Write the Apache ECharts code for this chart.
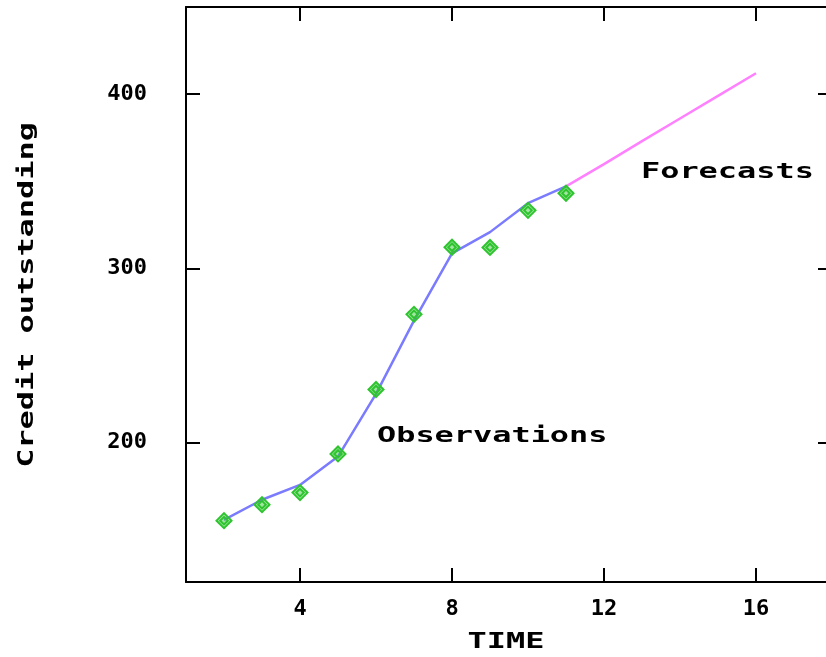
<!DOCTYPE html>
<html>
<head>
<meta charset="utf-8">
<script src="https://cdn.jsdelivr.net/npm/echarts@6/dist/echarts.min.js"></script>
<style>
html,body{margin:0;padding:0;background:#fff;overflow:hidden;width:826px;height:657px;}
#chart{width:840px;height:657px;}
</style>
</head>
<body>
<div id="chart"></div>
<script>
// ---- data ----
const obsTime = [2, 3, 4, 5, 6, 7, 8, 9, 10, 11];
const obsValues = [155.2, 164.4, 171.3, 193.5, 230.5, 273.6, 312.1, 312.0, 333.3, 343.1];
const fitTime = [2, 3, 4, 5, 6, 7, 8, 9, 10, 11];
const fitValues = [155.7, 167.2, 175.7, 192.0, 228.0, 270.0, 308.6, 320.8, 337.4, 347.1];
const fcTime = [11, 12, 13, 14, 15, 16];
const fcValues = [347.1, 359.8, 373.0, 386.0, 399.0, 412.0];
const xTicks = [4, 8, 12, 16];
const yTicks = [200, 300, 400];
const xTitle = 'TIME';
const yTitle = 'Credit outstanding';
const obsLabel = 'Observations';
const fcLabel = 'Forecasts';

const pairs = (xs, ys) => xs.map((x, i) => [x, ys[i]]);
const FONT = 'DejaVu Sans Mono';
const SX = 1.45;
const TFONT = 'bold 22px "' + FONT + '"';

const axisBase = {
  axisLine: { show: true, onZero: false, lineStyle: { color: '#000', width: 2 } },
  axisTick: { show: true, inside: true, length: 14, lineStyle: { color: '#000', width: 2 } },
  splitLine: { show: false }
};
const tickLabel = { fontFamily: FONT, fontSize: 22, fontWeight: 'bold', color: '#000' };

const chart = echarts.init(document.getElementById('chart'), null, { renderer: 'canvas', width: 840, height: 657 });
chart.setOption({
  backgroundColor: '#fff',
  animation: false,
  grid: { left: 186, top: 7, width: 646, height: 575, outerBoundsMode: 'none', containLabel: false },
  xAxis: [
    Object.assign({}, axisBase, {
      type: 'value', min: 1, max: 18, position: 'bottom',
      axisTick: Object.assign({}, axisBase.axisTick, { customValues: xTicks }),
      axisLabel: Object.assign({ customValues: xTicks, margin: 16 }, tickLabel)
    }),
    Object.assign({}, axisBase, {
      type: 'value', min: 1, max: 18, position: 'top',
      axisTick: Object.assign({}, axisBase.axisTick, { customValues: xTicks }),
      axisLabel: { show: false }
    })
  ],
  yAxis: [
    Object.assign({}, axisBase, {
      type: 'value', min: 120, max: 450, position: 'left',
      axisTick: Object.assign({}, axisBase.axisTick, { customValues: yTicks }),
      axisLabel: Object.assign({ customValues: yTicks, margin: 39 }, tickLabel)
    }),
    Object.assign({}, axisBase, {
      type: 'value', min: 120, max: 450, position: 'right',
      axisTick: Object.assign({}, axisBase.axisTick, { customValues: yTicks }),
      axisLabel: { show: false }
    })
  ],
  series: [
    {
      type: 'line', data: pairs(fitTime, fitValues), symbol: 'none',
      lineStyle: { color: '#7b7bff', width: 2.5 }, z: 2
    },
    {
      type: 'line', data: pairs(fcTime, fcValues), symbol: 'none',
      lineStyle: { color: '#ff80ff', width: 2.5 }, z: 2
    },
    {
      type: 'scatter', data: pairs(obsTime, obsValues),
      symbol: 'path://M6,0L12,6L6,12L0,6ZM6,3L9,6L6,9L3,6Z',
      symbolSize: 15,
      itemStyle: { color: 'rgba(46,196,46,0.45)', borderColor: '#2ec42e', borderWidth: 2, opacity: 1 },
      z: 3
    }
  ],
  graphic: [
    { type: 'text', x: 506, y: 642, scaleX: SX,
      style: { text: xTitle, font: TFONT, fill: '#000', textAlign: 'center', textVerticalAlign: 'middle' } },
    { type: 'text', x: 27, y: 295, rotation: Math.PI / 2, scaleX: SX,
      style: { text: yTitle, font: TFONT, fill: '#000', textAlign: 'center', textVerticalAlign: 'middle' } },
    { type: 'text', x: 377, y: 436, scaleX: SX,
      style: { text: obsLabel, font: TFONT, fill: '#000', textAlign: 'left', textVerticalAlign: 'middle' } },
    { type: 'text', x: 641, y: 172, scaleX: SX,
      style: { text: fcLabel, font: TFONT, fill: '#000', textAlign: 'left', textVerticalAlign: 'middle' } }
  ]
});
</script>
</body>
</html>
